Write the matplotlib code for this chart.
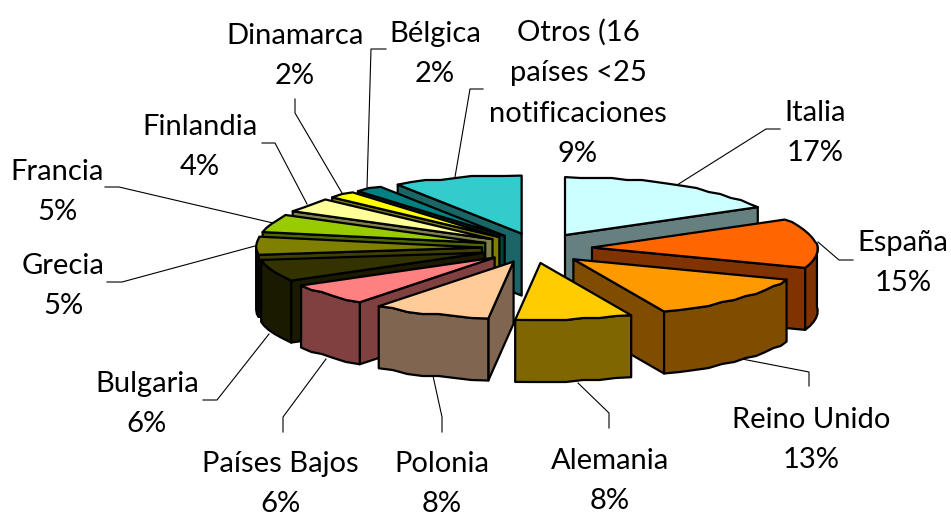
import numpy as np
import matplotlib
matplotlib.use('Agg')
import matplotlib.pyplot as plt
from matplotlib.patches import Polygon

# data, clockwise from 12 o'clock
names = ['Italia', 'España', 'Reino Unido', 'Alemania', 'Polonia', 'Países Bajos', 'Bulgaria',
         'Grecia', 'Francia', 'Finlandia', 'Dinamarca', 'Bélgica', 'Otros (16\npaíses <25\nnotificaciones']
values = [17, 15, 13, 8, 8, 6, 6, 5, 5, 4, 2, 2, 9]

top_colors = ['#CCFFFF', '#FF6600', '#FF9900', '#FFCC00', '#FFCC99', '#FF8080', '#333300',
              '#808000', '#99CC00', '#FFFF99', '#FFFF00', '#008080', '#33CCCC']
side_colors = ['#667F7F', '#803300', '#804C00', '#806600', '#806650', '#804040', '#1A1A00',
               '#404000', '#4C6600', '#80804C', '#808000', '#004040', '#1A6666']

# label centres in pixels
label_x = [815, 903, 811, 610, 442, 280, 147, 63, 57, 200, 295, 435, 578]
label_y = [133, 263, 440, 481, 484, 484, 404, 286, 192, 147, 56, 54, 93]

# leader lines in pixels
leaders = [
    [(677, 185), (766, 129), (780, 129)],
    [(818, 242), (839, 260), (853, 260)],
    [(742, 359), (809, 372), (809, 386)],
    [(578, 383), (609, 413), (609, 428)],
    [(433, 376), (442, 417), (442, 432)],
    [(326, 359), (283, 417), (283, 432)],
    [(269, 334), (217, 400), (203, 400)],
    [(255, 246), (122, 282), (107, 282)],
    [(273, 223), (119, 187), (105, 187)],
    [(307, 204), (275, 143), (262, 143)],
    [(342, 193), (295, 113), (295, 99)],
    [(367, 188), (371, 49), (386, 49)],
    [(455, 177), (470, 89), (483, 89)],
]

# pie shape
cx, cy = 537, 248
rx, ry = 220, 58
depth = 62
explode_x, explode_y = 55, 15


def point(ang, ox, oy):
    # the old 3D pie is not a clean ellipse, nudge it to follow the original
    ang = np.asarray(ang, dtype=float)
    near = np.sin(np.pi * np.clip((ang - 61) / 189, 0, 1)) ** 2
    back = np.sin(np.pi * np.clip((ang - 240) / 120, 0, 1)) ** 0.5
    low = np.sin(np.pi * np.clip((ang - 61) / 130, 0, 1))
    x = ox + rx * np.sin(np.radians(ang)) + 23 * near - 7 * back
    y = oy - ry * np.cos(np.radians(ang)) - 4.5 * low
    return x, y


def arc(a1, a2, ox, oy):
    n = max(int((a2 - a1) / 4), 2) + 1
    ang = np.linspace(a1, a2, n)
    x, y = point(ang, ox, oy)
    # coarse rounding gives the wobbly edge of the old chart
    y[1:-1] = np.round(y[1:-1] / 2) * 2
    return np.column_stack([x, y])


fig = plt.figure(figsize=(9.51, 5.16), dpi=100)
ax = fig.add_axes([0, 0, 1, 1])
ax.set_xlim(0, 951)
ax.set_ylim(516, 0)
ax.axis('off')

edges = np.cumsum([0] + values) * 3.6
order = [12, 11, 10, 9, 8, 7, 6, 0, 1, 2, 5, 4, 3]


def poly(pts, color, z):
    ax.add_patch(Polygon(pts, closed=True, facecolor=color, edgecolor='black',
                         linewidth=1.6, joinstyle='round', zorder=z))


z = 2
for i in order:
    a1, a2 = edges[i], edges[i + 1]
    mid = np.radians((a1 + a2) / 2)
    ox = cx + explode_x * np.sin(mid)
    oy = cy - explode_y * np.cos(mid)
    apex = np.array([ox, oy])
    down = np.array([0, depth])

    # cut faces that look towards the viewer
    if np.sin(np.radians(a1)) < -1e-6:
        p = np.array(point(a1, ox, oy))
        poly([apex, p, p + down, apex + down], side_colors[i], z)
        z += 1
    if np.sin(np.radians(a2)) > 1e-6:
        p = np.array(point(a2, ox, oy))
        poly([apex, p, p + down, apex + down], side_colors[i], z)
        z += 1

    # outer wall
    w1, w2 = max(a1, 90), min(a2, 270)
    if w2 > w1:
        wall = arc(w1, w2, ox, oy)
        poly(np.vstack([wall, (wall + down)[::-1]]), side_colors[i], z)
        z += 1

    # top
    poly(np.vstack([[apex], arc(a1, a2, ox, oy)]), top_colors[i], z)
    z += 1

for pts in leaders:
    xs, ys = zip(*pts)
    ax.plot(xs, ys, color='black', lw=0.8, zorder=1)

for name, v, x, y in zip(names, values, label_x, label_y):
    ax.text(x, y, f'{name}\n{v}%', ha='center', va='center', family='Lato',
            fontsize=21, linespacing=1.68, color='black', zorder=100)

fig.savefig('out.png', dpi=100)
